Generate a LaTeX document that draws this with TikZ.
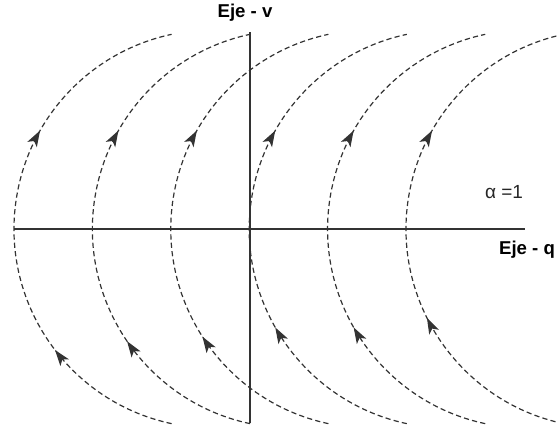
\documentclass[tikz,border=0pt]{standalone}
\usepackage{fontspec}
\newfontfamily\labelfont{Liberation Sans}
\usetikzlibrary{arrows.meta,decorations.markings}

\begin{document}
\begin{tikzpicture}[
    x=0.5pt, y=0.5pt,
    axis/.style={line width=1pt, black!80},
    orbit/.style={black!80, line width=0.6pt, dash pattern=on 2.6pt off 1.6pt},
    axislabel/.style={font=\labelfont\fontsize{9.3}{11}\selectfont\bfseries},
    paramlabel/.style={font=\labelfont\fontsize{9.5}{11}\selectfont, black!85},
]
\useasboundingbox (0,0) rectangle (557,433);
\clip (0,0) rectangle (557,433);

% --- Axes ---
\coordinate (qleft) at (14,204);
\coordinate (qright) at (525,204);
\coordinate (vbot) at (250,10);
\coordinate (vtop) at (250,401);
\draw[axis] (qleft) -- (qright);
\draw[axis] (vbot) -- (vtop);

% --- Trajectories ---
\foreach \i/\lo in {0/0.26, 1/0.28, 2/0.29, 3/0.31, 4/0.31, 5/0.33}{
  \coordinate (c\i) at ({14+78.4*\i+199},204);
  \draw[orbit, postaction={decorate}, decoration={markings,
      mark=at position \lo with {\arrow{Stealth[length=8pt,width=5.4pt,inset=2pt]}},
      mark=at position 0.69 with {\arrow{Stealth[length=8pt,width=5.4pt,inset=2pt]}}}]
    (c\i) ++(258:199) arc[start angle=258, end angle=102, radius=199];
}

% --- Labels ---
\node[axislabel] (vlabel) at (245,420) {Eje - v};
\node[axislabel] (qlabel) at (527,183) {Eje - q};
\node[paramlabel] (alpha) at (504,241) {α =1};

\end{tikzpicture}
\end{document}
